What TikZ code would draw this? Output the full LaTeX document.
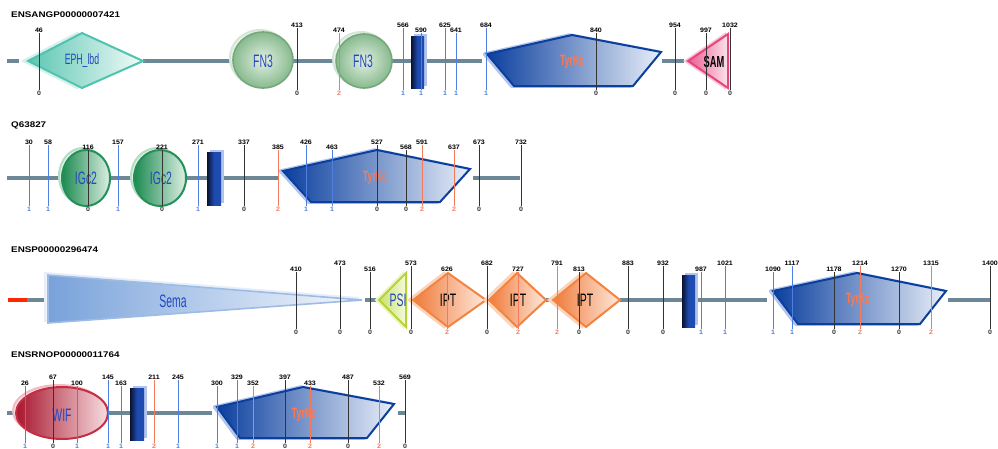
\documentclass[tikz,border=0pt]{standalone}
\usepackage{fontspec}
\setmainfont{Liberation Sans}
\newfontfamily\titfont[FakeStretch=1.2]{Liberation Sans}
\newfontfamily\numfnt[FakeStretch=1.1]{Liberation Sans}
\newfontfamily\domfont[FakeStretch=0.58]{Liberation Sans}
\definecolor{bb}{HTML}{6C8796}
\definecolor{k0}{HTML}{333333}
\definecolor{k1}{HTML}{4F7FE0}
\definecolor{k2}{HTML}{F47A5C}
\definecolor{dlab}{HTML}{2348C0}
\definecolor{tyrlab}{HTML}{FF7850}
\definecolor{tyrd}{HTML}{0B3F9E}
\definecolor{tyrl}{HTML}{E8EEF8}
\definecolor{tyrg}{HTML}{B2C4EC}
\definecolor{recd}{HTML}{0A1232}
\definecolor{recm}{HTML}{1E4BB0}
\definecolor{fnb}{HTML}{76A87C}
\definecolor{fni}{HTML}{E2EFE2}
\definecolor{fno}{HTML}{88BA8E}
\definecolor{fng}{HTML}{D4E6D6}
\definecolor{igb}{HTML}{23905A}
\definecolor{igl}{HTML}{1C8A50}
\definecolor{igr}{HTML}{DDF0E4}
\definecolor{igh}{HTML}{B5DCC4}
\definecolor{teb}{HTML}{4EC3AE}
\definecolor{tel}{HTML}{5CC6B2}
\definecolor{ter}{HTML}{F2FBF9}
\definecolor{teh}{HTML}{D5F0EA}
\definecolor{seb}{HTML}{9DBBE4}
\definecolor{sel}{HTML}{79A2DA}
\definecolor{ser}{HTML}{F4F8FD}
\definecolor{seh}{HTML}{E6EEF9}
\definecolor{psb}{HTML}{B5D334}
\definecolor{psl}{HTML}{C9E168}
\definecolor{psr}{HTML}{F5FADC}
\definecolor{psh}{HTML}{EEF6C8}
\definecolor{ipb}{HTML}{F3843F}
\definecolor{ipl}{HTML}{F07A3A}
\definecolor{ipr}{HTML}{FDE9DC}
\definecolor{iph}{HTML}{FBD3BA}
\definecolor{wib}{HTML}{C42E44}
\definecolor{wil}{HTML}{A8162E}
\definecolor{wir}{HTML}{F7DDE0}
\definecolor{wih}{HTML}{F0BCC4}
\definecolor{sab}{HTML}{E9437E}
\definecolor{sal}{HTML}{EC5E92}
\definecolor{sar}{HTML}{FBE3EC}
\definecolor{sah}{HTML}{F8C8DA}
\newcommand\site[6]{%
  \node[numlab] (#1t#5) at (#2,#3) {#5};
  \node[numlab,text=k#6] (#1b#5) at (#2,#4) {#6};
  \draw[mline,draw=k#6] (#1t#5.south) -- (#1b#5.north);}
\begin{document}
\begin{tikzpicture}[x=1pt,y=-1pt,
  bbone/.style={draw=bb, line width=4.5pt},
  mline/.style={line width=0.9pt},
  numlab/.style={font=\numfnt\bfseries\fontsize{6.4}{6.4}\selectfont, inner sep=0.5pt},
  titl/.style={font=\titfont\bfseries\fontsize{8.2}{8.2}\selectfont, anchor=west, inner sep=0},
  dom/.style={font=\domfont\fontsize{18}{18}\selectfont, text=dlab, inner sep=0},
  tyr/.style={font=\domfont\bfseries\fontsize{15}{15}\selectfont, text=tyrlab, inner sep=0},
  pg/.style={draw=tyrg, fill=tyrg, line width=3.5pt, line join=round, xshift=-2.5pt},
  pm/.style={draw=tyrd, line width=2pt, line join=miter, left color=tyrd, right color=tyrl},
  rg/.style={fill=tyrg, draw=none, xshift=3pt, yshift=2.5pt},
  rm/.style={left color=recd, right color=recm, middle color=recm, draw=none},
  tealg/.style={draw=teh, fill=teh!40, line width=2pt, xshift=-5pt},
  tealm/.style={draw=teb, line width=2pt, left color=tel, right color=ter},
  fngh/.style={draw=fng, fill=fng!50, line width=2pt, xshift=-3pt, yshift=2pt},
  fnm/.style={draw=fnb, line width=1.6pt, inner color=fni, outer color=fno},
  igg/.style={draw=igh, fill=igh!40, line width=2pt, xshift=-3pt, yshift=2pt},
  igm/.style={draw=igb, line width=2pt, left color=igl, right color=igr},
  samg/.style={draw=sah, fill=sah!40, line width=2pt, xshift=-3pt},
  samm/.style={draw=sab, line width=2pt, left color=sal, right color=sar},
  semg/.style={draw=seh, fill=seh!50, line width=2pt, xshift=-3pt, yshift=2pt},
  semm/.style={draw=seb, line width=1.6pt, left color=sel, right color=ser},
  psig/.style={draw=psh, fill=psh!40, line width=2pt, xshift=-3pt},
  psim/.style={draw=psb, line width=2pt, left color=psl, right color=psr},
  iptg/.style={draw=iph, fill=iph!40, line width=2.5pt, xshift=-4pt},
  iptm/.style={draw=ipb, line width=2pt, left color=ipl, right color=ipr},
  wifg/.style={draw=wih, fill=wih!40, line width=2pt, xshift=-3pt, yshift=2pt},
  wifm/.style={draw=wib, line width=2pt, left color=wil, right color=wir}]
\useasboundingbox (0,0) rectangle (998,448);

% ---------------- Row 1 ----------------
\node[titl] (t1) at (11,15) {ENSANGP00000007421};
\draw[bbone] (7,61) -- (19,61);
\draw[bbone] (143,61) -- (233,61);
\draw[bbone] (293,61) -- (336,61);
\draw[bbone] (392,61) -- (482,61);
\draw[bbone] (662,61) -- (684,61);
\draw[tealg] (28,61) -- (82,33) -- (143,61) -- (82,88) -- cycle;
\draw[tealm] (28,61) -- (82,33) -- (143,61) -- (82,88) -- cycle;
\node[dom,font=\domfont\fontsize{15}{15}\selectfont] (d1) at (82,61) {EPH\_lbd};
\draw[fngh] (263,60) ellipse [x radius=30pt, y radius=28pt];
\draw[fnm] (263,60) ellipse [x radius=30pt, y radius=28pt];
\node[dom] (d2) at (263,61) {FN3};
\draw[fngh] (364,61) ellipse [x radius=28pt, y radius=27pt];
\draw[fnm] (364,61) ellipse [x radius=28pt, y radius=27pt];
\node[dom] (d3) at (363,61) {FN3};
\fill[rg] (411,36) rectangle (424,88);
\fill[rm] (411,36) rectangle (424,88);
\draw[pg] (487,54) -- (572,35) -- (661,52) -- (633,86) -- (514,86) -- cycle;
\draw[pm] (487,54) -- (572,35) -- (661,52) -- (633,86) -- (514,86) -- cycle;
\node[tyr] (d4) at (572,62) {TyrKc};
\draw[samg] (688,61) -- (728,34) -- (728,88) -- cycle;
\draw[samm] (688,61) -- (728,34) -- (728,88) -- cycle;
\node[dom,text=black,font=\domfont\bfseries\fontsize{16}{16}\selectfont] (d5) at (714,62) {SAM};
\site{a}{39}{30}{93}{46}{0}
\site{a}{297}{25}{93}{413}{0}
\site{a}{339}{30}{93}{474}{2}
\site{a}{403}{25}{93}{566}{1}
\site{a}{421}{30}{93}{590}{1}
\site{a}{445}{25}{93}{625}{1}
\site{a}{456}{30}{93}{641}{1}
\site{a}{486}{25}{93}{684}{1}
\site{a}{596}{30}{93}{840}{0}
\site{a}{675}{25}{93}{954}{0}
\site{a}{706}{30}{93}{997}{0}
\site{a}{730}{25}{93}{1032}{0}

% ---------------- Row 2 ----------------
\node[titl] (t2) at (11,125) {Q63827};
\draw[bbone] (7,178) -- (62,178);
\draw[bbone] (110,178) -- (133,178);
\draw[bbone] (186,178) -- (207,178);
\draw[bbone] (223,178) -- (279,178);
\draw[bbone] (473,178) -- (520,178);
\draw[igg] (86,178) ellipse [x radius=24pt, y radius=28pt];
\draw[igm] (86,178) ellipse [x radius=24pt, y radius=28pt];
\node[dom] (e1) at (86,178) {IGc2};
\draw[igg] (160,178) ellipse [x radius=26pt, y radius=28pt];
\draw[igm] (160,178) ellipse [x radius=26pt, y radius=28pt];
\node[dom] (e2) at (161,178) {IGc2};
\fill[rg] (207,152) rectangle (221,205);
\fill[rm] (207,152) rectangle (221,205);
\draw[pg] (283,171) -- (377,150) -- (470,169) -- (440,202) -- (311,202) -- cycle;
\draw[pm] (283,171) -- (377,150) -- (470,169) -- (440,202) -- (311,202) -- cycle;
\node[tyr] (e3) at (375,178) {TyrKc};
\site{b}{29}{142}{209}{30}{1}
\site{b}{48}{142}{209}{58}{1}
\site{b}{88}{147}{209}{116}{0}
\site{b}{118}{142}{209}{157}{1}
\site{b}{162}{147}{209}{221}{0}
\site{b}{198}{142}{209}{271}{1}
\site{b}{244}{142}{209}{337}{0}
\site{b}{278}{147}{209}{385}{2}
\site{b}{306}{142}{209}{426}{1}
\site{b}{332}{147}{209}{463}{1}
\site{b}{377}{142}{209}{527}{0}
\site{b}{406}{147}{209}{568}{0}
\site{b}{422}{142}{209}{591}{2}
\site{b}{454}{147}{209}{637}{2}
\site{b}{479}{142}{209}{673}{0}
\site{b}{521}{142}{209}{732}{0}

% ---------------- Row 3 ----------------
\node[titl] (t3) at (11,250) {ENSP00000296474};
\draw[bbone,draw=red!70!orange] (8,300) -- (27,300);
\draw[bbone] (27,300) -- (47,300);
\draw[bbone] (365,300) -- (379,300);
\draw[bbone] (546,300) -- (553,300);
\draw[bbone] (620,300) -- (682,300);
\draw[bbone] (695,300) -- (767,300);
\draw[bbone] (948,300) -- (990,300);
\draw[semg] (48,275) -- (362,300) -- (48,323) -- cycle;
\draw[semm] (48,275) -- (362,300) -- (48,323) -- cycle;
\node[dom] (f1) at (173,301) {Sema};
\draw[psig] (379,300) -- (406,273) -- (406,327) -- cycle;
\draw[psim] (379,300) -- (406,273) -- (406,327) -- cycle;
\node[dom] (f2) at (398,300) {PSI};
\draw[iptg] (413,300) -- (448,273) -- (486,300) -- (448,327) -- cycle;
\draw[iptm] (413,300) -- (448,273) -- (486,300) -- (448,327) -- cycle;
\node[dom,text=black] (f3) at (448,300) {IPT};
\draw[iptg] (489,300) -- (517,273) -- (546,300) -- (517,327) -- cycle;
\draw[iptm] (489,300) -- (517,273) -- (546,300) -- (517,327) -- cycle;
\node[dom,text=black] (f4) at (518,300) {IPT};
\draw[iptg] (553,300) -- (586,273) -- (620,300) -- (586,327) -- cycle;
\draw[iptm] (553,300) -- (586,273) -- (620,300) -- (586,327) -- cycle;
\node[dom,text=black] (f5) at (585,300) {IPT};
\fill[rg] (682,275) rectangle (695,327);
\fill[rm] (682,275) rectangle (695,327);
\draw[pg] (773,291) -- (857,273) -- (946,291) -- (920,324) -- (798,324) -- cycle;
\draw[pm] (773,291) -- (857,273) -- (946,291) -- (920,324) -- (798,324) -- cycle;
\node[tyr] (f6) at (858,300) {TyrKc};
\site{c}{296}{269}{332}{410}{0}
\site{c}{340}{263}{332}{473}{0}
\site{c}{370}{269}{332}{516}{0}
\site{c}{411}{263}{332}{573}{0}
\site{c}{447}{269}{332}{626}{2}
\site{c}{487}{263}{332}{682}{0}
\site{c}{518}{269}{332}{727}{2}
\site{c}{557}{263}{332}{791}{2}
\site{c}{579}{269}{332}{813}{0}
\site{c}{628}{263}{332}{883}{0}
\site{c}{663}{263}{332}{932}{0}
\site{c}{701}{269}{332}{987}{1}
\site{c}{725}{263}{332}{1021}{1}
\site{c}{773}{269}{332}{1090}{1}
\site{c}{792}{263}{332}{1117}{1}
\site{c}{834}{269}{332}{1178}{0}
\site{c}{860}{263}{332}{1214}{2}
\site{c}{899}{269}{332}{1270}{0}
\site{c}{931}{263}{332}{1315}{2}
\site{c}{990}{263}{332}{1400}{0}

% ---------------- Row 4 ----------------
\node[titl] (t4) at (11,355) {ENSRNOP00000011764};
\draw[bbone] (7,413) -- (17,413);
\draw[bbone] (108,413) -- (130,413);
\draw[bbone] (144,413) -- (212,413);
\draw[bbone] (398,413) -- (405,413);
\draw[wifg] (62,413) ellipse [x radius=46pt, y radius=26pt];
\draw[wifm] (62,413) ellipse [x radius=46pt, y radius=26pt];
\node[dom] (g1) at (62,415) {WIF};
\fill[rg] (130,388) rectangle (144,440);
\fill[rm] (130,388) rectangle (144,440);
\draw[pg] (217,407) -- (303,387) -- (394,404) -- (367,438) -- (240,438) -- cycle;
\draw[pm] (217,407) -- (303,387) -- (394,404) -- (367,438) -- (240,438) -- cycle;
\node[tyr] (g2) at (304,415) {TyrKc};
\site{d}{25}{383}{446}{26}{1}
\site{d}{53}{377}{446}{67}{0}
\site{d}{77}{383}{446}{100}{1}
\site{d}{108}{377}{446}{145}{1}
\site{d}{121}{383}{446}{163}{1}
\site{d}{154}{377}{446}{211}{2}
\site{d}{178}{377}{446}{245}{1}
\site{d}{217}{383}{446}{300}{1}
\site{d}{237}{377}{446}{329}{1}
\site{d}{253}{383}{446}{352}{2}
\site{d}{285}{377}{446}{397}{0}
\site{d}{310}{383}{446}{433}{2}
\site{d}{348}{377}{446}{487}{0}
\site{d}{379}{383}{446}{532}{2}
\site{d}{405}{377}{446}{569}{0}
\end{tikzpicture}
\end{document}
